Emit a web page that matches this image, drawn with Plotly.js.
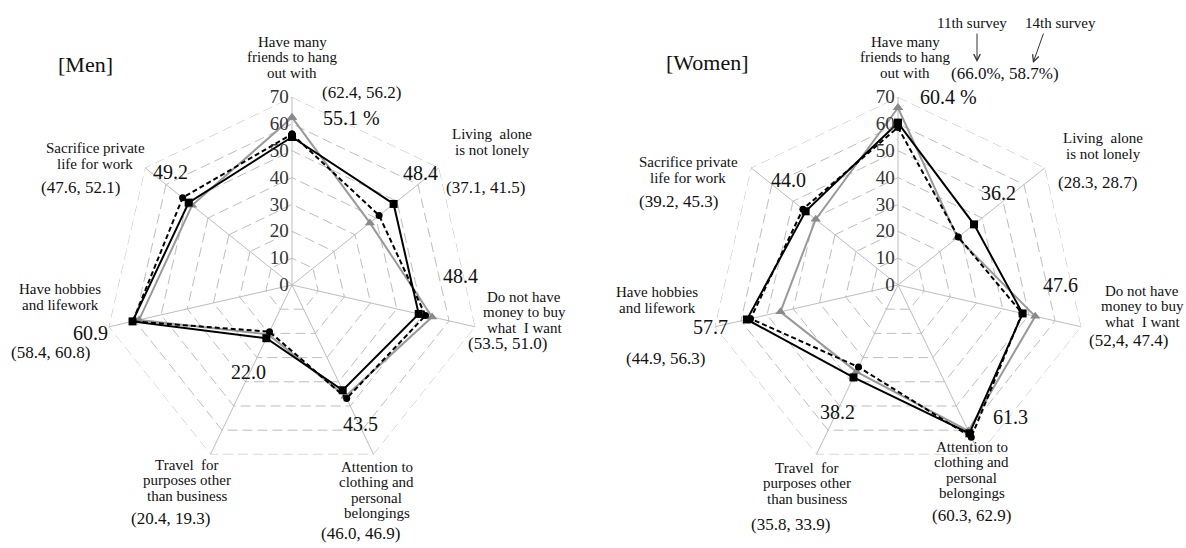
<!DOCTYPE html>
<html>
<head>
<meta charset="utf-8">
<script src="https://cdn.plot.ly/plotly-3.0.1.min.js"></script>
<style>html,body{margin:0;padding:0;background:#fff;}#chart{width:1186px;height:548px;}</style>
</head>
<body>
<div id="chart"></div>
<script>
// ---------------- data ----------------
const categories = [
  'Have many friends to hang out with',
  'Living alone is not lonely',
  'Do not have money to buy what I want',
  'Attention to clothing and personal belongings',
  'Travel for purposes other than business',
  'Have hobbies and lifework',
  'Sacrifice private life for work'
];
const categoryLines = [
  ['Have many', 'friends to hang', 'out with'],
  ['Living  alone', 'is not lonely'],
  ['Do not have', 'money to buy', 'what  I want'],
  ['Attention to', 'clothing and', 'personal', 'belongings'],
  ['Travel  for', 'purposes other', 'than business'],
  ['Have hobbies', 'and lifework'],
  ['Sacrifice private', 'life for work']
];
const menLatest   = [55.1, 48.4, 48.4, 43.5, 22.0, 60.9, 49.2];
const men11th     = [62.4, 37.1, 53.5, 46.0, 20.4, 58.4, 47.6];
const men14th     = [56.2, 41.5, 51.0, 46.9, 19.3, 60.8, 52.1];
const womenLatest = [60.4, 36.2, 47.6, 61.3, 38.2, 57.7, 44.0];
const women11th   = [66.0, 28.3, 52.4, 60.3, 35.8, 44.9, 39.2];
const women14th   = [58.7, 28.7, 47.4, 62.9, 33.9, 56.3, 45.3];
const radialTicks = [0, 10, 20, 30, 40, 50, 60, 70];
const panelTitles = ['[Men]', '[Women]'];
const legendNames = ['11th survey', '14th survey'];

// ---------------- layout helpers ----------------
const W = 1186, H = 548;
const FONT = '"Liberation Serif", "Times New Roman", serif';
const TXT = '#111';
const GRID = '#bdbdbd';
const CAT = 15, PAREN = 17, BIG = 20;
const px = (x, y) => ({x: x / W, y: 1 - y / H});
const annotations = [];
function addText(text, x, y, size, opts) {
  const p = px(x, y);
  annotations.push(Object.assign({
    xref: 'paper', yref: 'paper', x: p.x, y: p.y, text: text,
    showarrow: false, xanchor: 'center', yanchor: 'middle',
    font: {family: FONT, size: size, color: TXT}
  }, opts || {}));
}
function addLines(lines, cx, cy, size, spacing) {
  const n = lines.length;
  lines.forEach((ln, i) => addText(ln, cx, cy + (i - (n - 1) / 2) * spacing, size));
}
const f1 = v => v.toFixed(1);
function parenText(a, b, pct) {
  const s = pct ? '%' : '';
  return '(' + f1(a) + s + ', ' + f1(b) + s + ')';
}

function closed(arr) { return arr.concat([arr[0]]); }
const thetaClosed = closed(categories);
const rMax = radialTicks[radialTicks.length - 1];

function seriesTraces(d11, d14, dl, polar) {
  return [
    // dashed outer frame of the web (grid at the axis maximum)
    {type: 'scatterpolar', subplot: polar, r: thetaClosed.map(() => rMax), theta: thetaClosed, mode: 'lines',
     line: {color: GRID, width: 1, dash: '10px,5px'}, hoverinfo: 'skip', cliponaxis: false},
    {type: 'scatterpolar', subplot: polar, r: closed(d11), theta: thetaClosed, mode: 'lines+markers',
     line: {color: '#999999', width: 2}, marker: {symbol: 'triangle-up', size: 9, color: '#8a8a8a'},
     name: legendNames[0], hoverinfo: 'r+theta'},
    {type: 'scatterpolar', subplot: polar, r: closed(d14), theta: thetaClosed, mode: 'lines+markers',
     line: {color: '#000', width: 2, dash: '5px,3px'}, marker: {symbol: 'circle', size: 7, color: '#000'},
     name: legendNames[1], hoverinfo: 'r+theta'},
    {type: 'scatterpolar', subplot: polar, r: closed(dl), theta: thetaClosed, mode: 'lines+markers',
     line: {color: '#000', width: 2}, marker: {symbol: 'square', size: 8, color: '#000'},
     name: 'Latest survey', hoverinfo: 'r+theta'}
  ];
}

const data = seriesTraces(men11th, men14th, menLatest, 'polar')
  .concat(seriesTraces(women11th, women14th, womenLatest, 'polar2'));

function polarCfg(domX) {
  return {
    domain: {x: domX, y: [75 / H, 451 / H]},
    bgcolor: 'rgba(0,0,0,0)',
    gridshape: 'linear',
    radialaxis: {
      range: [0, rMax], tickvals: radialTicks, ticktext: radialTicks.map(String),
      angle: 90, tickangle: 90, side: 'counterclockwise', ticks: '',
      showline: false, showgrid: true, gridcolor: GRID, griddash: '10px,5px', gridwidth: 1,
      tickfont: {family: FONT, size: 19, color: '#333'}
    },
    angularaxis: {
      rotation: 90, direction: 'clockwise', showticklabels: false, ticks: '',
      showgrid: true, gridcolor: GRID, gridwidth: 1,
      showline: false
    }
  };
}

// ---------------- annotations: Men ----------------
addText(panelTitles[0], 85, 65, 22);
addLines(categoryLines[0], 292, 57, CAT, 15.5);
addText(parenText(men11th[0], men14th[0]), 362, 92, PAREN);
addText(f1(menLatest[0]) + ' %', 351, 118, BIG);
addLines(categoryLines[1], 492, 142, CAT, 15.5);
addText(f1(menLatest[1]), 420, 173, BIG);
addText(parenText(men11th[1], men14th[1]), 486, 187, PAREN);
addText(f1(menLatest[2]), 460, 276, BIG);
addLines(categoryLines[2], 524, 312, CAT, 15.5);
addText(parenText(men11th[2], men14th[2]), 507, 343, PAREN);
addText(f1(menLatest[3]), 360, 424, BIG);
addLines(categoryLines[3], 377, 490, CAT, 15.5);
addText(parenText(men11th[3], men14th[3]), 360, 533, PAREN);
addText(f1(menLatest[4]), 248, 372, BIG);
addLines(categoryLines[4], 187, 480, CAT, 15.5);
addText(parenText(men11th[4], men14th[4]), 170, 518, PAREN);
addLines(categoryLines[5], 60, 297, CAT, 15.5);
addText(f1(menLatest[5]), 90, 333, BIG);
addText(parenText(men11th[5], men14th[5]), 50, 352, PAREN);
addLines(categoryLines[6], 95, 156, CAT, 15.5);
addText(f1(menLatest[6]), 170, 172, BIG);
addText(parenText(men11th[6], men14th[6]), 80, 187, PAREN);

// ---------------- annotations: Women ----------------
addText(panelTitles[1], 707, 62, 22);
addLines(categoryLines[0], 905, 57, CAT, 15.5);
addText(parenText(women11th[0], women14th[0], true), 1005, 73, PAREN);
addText(f1(womenLatest[0]) + ' %', 948, 97, BIG);
addLines(categoryLines[1], 1103, 146, CAT, 15.5);
addText(f1(womenLatest[1]), 998, 193, BIG);
addText(parenText(women11th[1], women14th[1]), 1097, 183, PAREN);
addText(f1(womenLatest[2]), 1060, 285, BIG);
addLines(categoryLines[2], 1142, 306, CAT, 15.5);
// the original figure prints "52,4" (comma typo) for this pair
addText(parenText(women11th[2], women14th[2]).replace('.', ','), 1128, 340, PAREN);
addText(f1(womenLatest[3]), 1010, 417, BIG);
addLines(categoryLines[3], 972, 470, CAT, 15.5);
addText(parenText(women11th[3], women14th[3]), 972, 515, PAREN);
addText(f1(womenLatest[4]), 837, 412, BIG);
addLines(categoryLines[4], 807, 483, CAT, 15.5);
addText(parenText(women11th[4], women14th[4]), 790, 524, PAREN);
addLines(categoryLines[5], 657, 300, CAT, 15.5);
addText(f1(womenLatest[5]), 710, 327, BIG);
addText(parenText(women11th[5], women14th[5]), 665, 358, PAREN);
addLines(categoryLines[6], 688, 170, CAT, 15.5);
addText(f1(womenLatest[6]), 788, 180, BIG);
addText(parenText(women11th[6], women14th[6]), 678, 202, PAREN);

// legend-like callouts
addText(legendNames[0], 972, 23, 15);
addText(legendNames[1], 1060, 23, 15);
function addArrow(x0, y0, x1, y1) {
  const h = px(x1, y1), t = px(x0, y0);
  annotations.push({xref: 'paper', yref: 'paper', x: h.x, y: h.y, axref: 'paper', ayref: 'paper',
    ax: t.x, ay: t.y, text: '', showarrow: true, arrowhead: 5, arrowsize: 1.3, arrowwidth: 1, arrowcolor: '#333'});
}
addArrow(977, 32, 977, 62);
addArrow(1044, 32, 1033, 63);

const layout = {
  width: W, height: H,
  margin: {l: 0, r: 0, t: 0, b: 0},
  paper_bgcolor: '#fff',
  showlegend: false,
  font: {family: FONT},
  polar: polarCfg([104 / W, 480 / W]),
  polar2: polarCfg([710 / W, 1086 / W]),
  annotations: annotations
};

Plotly.newPlot('chart', data, layout, {displayModeBar: false, staticPlot: true});
</script>
</body>
</html>
